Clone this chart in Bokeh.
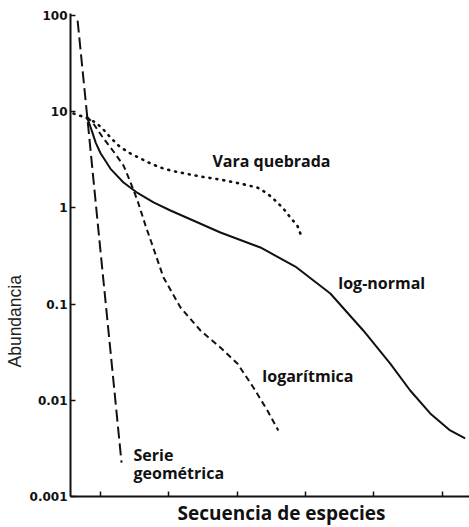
import math
from bokeh.plotting import figure
from bokeh.models import FixedTicker, ColumnDataSource, Title, CustomLabelingPolicy
from bokeh.core.properties import value
from bokeh.embed import file_html
from bokeh.resources import INLINE

# --- data ---
geo_x = [6.64, 8.25, 9.85, 11.46, 13.07]
geo_y = [88.7, 6.38, 0.448, 0.0321, 0.00225]

broken_x = [6.05, 7.81, 9.27, 10.29, 11.46, 12.63, 14.09, 15.56, 17.31, 18.77, 20.23,
            21.70, 24.62, 27.54, 30.47, 32.95, 34.42, 35.58, 36.75, 37.78, 38.80, 39.24]
broken_y = [9.57, 8.71, 7.73, 6.69, 5.39, 4.45, 3.77, 3.34, 2.90, 2.63, 2.45,
            2.33, 2.12, 1.97, 1.79, 1.63, 1.41, 1.19, 0.986, 0.795, 0.656, 0.542]

lognorm_x = [7.95, 8.25, 8.70, 9.30, 10.0, 11.46, 13.36, 15.41, 17.75, 20.23, 23.89, 27.54,
             33.39, 38.51, 43.63, 48.45, 52.40, 55.32, 58.25, 61.17, 63.36]
lognorm_y = [8.91, 7.91, 6.40, 4.75, 3.70, 2.55, 1.84, 1.43, 1.14, 0.94, 0.722, 0.555,
             0.388, 0.246, 0.129, 0.0532, 0.0241, 0.01265, 0.0073, 0.00486, 0.00401]

logser_x = [7.95, 8.83, 10.44, 11.90, 13.36, 14.39, 15.41, 16.58, 17.60, 19.21, 21.70,
            24.62, 27.54, 30.03, 32.37, 34.42, 36.02]
logser_y = [8.91, 7.73, 5.26, 3.86, 2.76, 1.84, 1.19, 0.656, 0.407, 0.189, 0.0922,
            0.0532, 0.0354, 0.0241, 0.0136, 0.00784, 0.00486]

label_text = ["Vara quebrada", "log-normal", "logarítmica", "Serie", "geométrica"]
label_x = [26.37, 44.80, 33.68, 14.82, 14.82]
label_y = [3.11, 0.164, 0.0181, 0.00267, 0.00177]

y_ticks = [0.001, 0.01, 0.1, 1, 10, 100]
y_tick_labels = ["0.001", "0.01", "0.1", "1", "10", "100"]
x_ticks = [10, 20, 30, 40, 50, 60]

x_title = "Secuencia de especies"
y_title = "Abundancia"

p = figure(width=469, height=527, y_axis_type="log",
           x_range=(5.6, 64), y_range=(0.001, 105),
           output_backend="svg", toolbar_location=None,
           min_border_left=70, min_border_right=0,
           min_border_top=13, min_border_bottom=31)
p.outline_line_color = None
p.grid.visible = False
p.background_fill_color = "white"
p.border_fill_color = "white"

for ax in (p.xaxis[0], p.yaxis[0]):
    ax.axis_line_width = 2
    ax.axis_line_color = "#111111"
    ax.major_tick_line_width = 1.5
    ax.major_tick_line_color = "#111111"
    ax.minor_tick_line_color = None
    ax.major_tick_in = 5
    ax.major_tick_out = 0

p.xaxis.ticker = FixedTicker(ticks=x_ticks)
p.xaxis.major_label_text_font_size = "0px"
p.xaxis.major_label_standoff = 0
p.xaxis.major_label_policy = CustomLabelingPolicy(code="""
try { const ids = Array.from(indices.ones()); for (const i of ids) indices.unset(i); } catch (e) {}
return indices;
""")

p.yaxis.ticker = FixedTicker(ticks=y_ticks)
p.yaxis.major_label_overrides = {float(t): s for t, s in zip(y_ticks, y_tick_labels)}
p.yaxis.major_label_text_font = "DejaVu Sans"
p.yaxis.major_label_text_font_style = "bold"
p.yaxis.major_label_text_font_size = "12px"
p.yaxis.major_label_text_color = "#111111"
p.yaxis.major_label_standoff = 3

lc = "#111111"
p.line(geo_x, geo_y, line_color=lc, line_width=2, line_dash="12 5")
p.line(logser_x, logser_y, line_color=lc, line_width=2, line_dash="6 4")
p.line(broken_x, broken_y, line_color=lc, line_width=2.6, line_dash="1 6", line_cap="round")
p.line(lognorm_x, lognorm_y, line_color=lc, line_width=2)

src = ColumnDataSource(dict(x=label_x, y=label_y, t=label_text))
p.text(x="x", y="y", text="t", source=src, text_font=value("Open Sans"),
       text_font_style="bold", text_font_size="16px", text_color=lc,
       text_align="left", text_baseline="middle")

p.add_layout(Title(text=y_title, align="left", offset=129, standoff=3,
                   text_font="Liberation Sans", text_font_style="normal",
                   text_font_size="17.5px", text_color="#222222"), "left")
p.add_layout(Title(text=x_title, align="left", offset=107, standoff=2,
                   text_font="Open Sans", text_font_style="bold",
                   text_font_size="19px", text_color=lc), "below")

open("out.html", "w").write(file_html(p, INLINE))
